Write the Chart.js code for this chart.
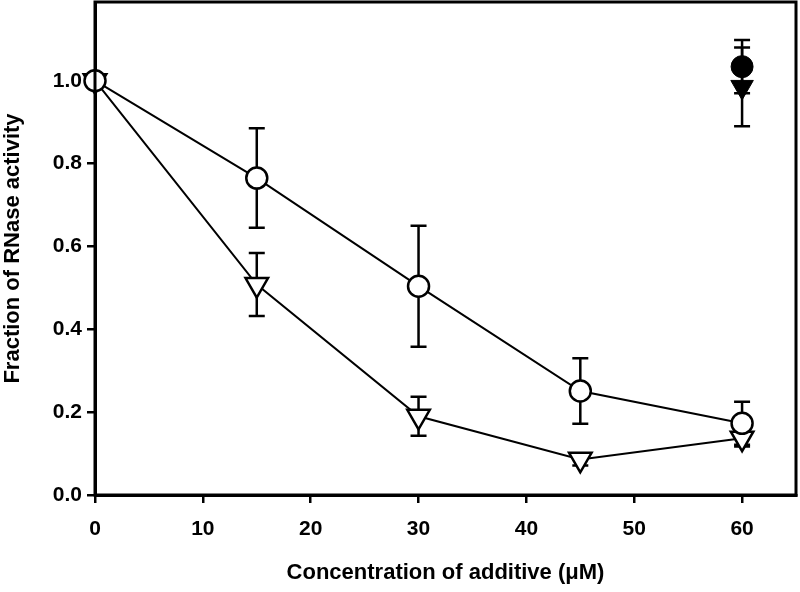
<!DOCTYPE html>
<html lang="en">
<head>
<meta charset="UTF-8">
<title>Fraction of RNase activity</title>
<script src="https://cdn.jsdelivr.net/npm/chart.js"></script>
<style>
    body { margin: 0; background: #fff; }
    #wrap { width: 800px; height: 592px; }
</style>
</head>
<body>
<div id="wrap"><canvas id="myChart" width="800" height="592"></canvas></div>
<script>
    // data
    const conc = [0, 15, 30, 45, 60];
    const openCircle = [1.0, 0.765, 0.504, 0.251, 0.173];
    const openCircleErr = [0, 0.12, 0.146, 0.079, 0.052];
    const openTriangle = [1.0, 0.508, 0.19, 0.086, 0.137];
    const openTriangleErr = [0, 0.076, 0.047, 0.015, 0.02];
    const filledCircleX = [60];
    const filledCircle = [1.034];
    const filledCircleErr = [0.064];
    const filledTriangleX = [60];
    const filledTriangle = [0.985];
    const filledTriangleErr = [0.095];
    const xTicks = [0, 10, 20, 30, 40, 50, 60];
    const yTicks = [0.0, 0.2, 0.4, 0.6, 0.8, 1.0];

    function pts(xs, ys, errs) {
        return xs.map((x, i) => ({ x: x, y: ys[i], err: errs[i] }));
    }

    // error bars, drawn under the markers
    const errorBars = {
        id: 'errorBars',
        beforeDatasetsDraw(chart) {
            const ctx = chart.ctx;
            const xs = chart.scales.x, ys = chart.scales.y;
            ctx.save();
            ctx.strokeStyle = '#000';
            ctx.lineWidth = 2.5;
            chart.data.datasets.forEach(ds => {
                ds.data.forEach(p => {
                    if (!p.err) return;
                    const px = xs.getPixelForValue(p.x);
                    const top = ys.getPixelForValue(p.y + p.err);
                    const bot = ys.getPixelForValue(p.y - p.err);
                    ctx.beginPath();
                    ctx.moveTo(px, top); ctx.lineTo(px, bot);
                    ctx.moveTo(px - 8, top); ctx.lineTo(px + 8, top);
                    ctx.moveTo(px - 8, bot); ctx.lineTo(px + 8, bot);
                    ctx.stroke();
                });
            });
            ctx.restore();
        }
    };

    // frame round the plot area
    const frame = {
        id: 'frame',
        afterDraw(chart) {
            const a = chart.chartArea, ctx = chart.ctx;
            ctx.save();
            ctx.strokeStyle = '#000';
            ctx.lineWidth = 3;
            ctx.strokeRect(a.left, a.top, a.right - a.left, a.bottom - a.top);
            ctx.restore();
        }
    };

    const font = { family: 'Liberation Sans, Arial, sans-serif', weight: 'bold' };

    const chart = new Chart(document.getElementById('myChart'), {
        type: 'scatter',
        data: {
            datasets: [
                {
                    data: pts(conc, openCircle, openCircleErr),
                    showLine: true,
                    clip: false,
                    borderColor: '#000',
                    borderWidth: 2,
                    pointStyle: 'circle',
                    pointRadius: 10.5,
                    pointBorderWidth: 2.5,
                    pointBackgroundColor: '#fff',
                    pointBorderColor: '#000'
                },
                {
                    data: pts(conc, openTriangle, openTriangleErr),
                    showLine: true,
                    clip: false,
                    borderColor: '#000',
                    borderWidth: 2,
                    pointStyle: 'triangle',
                    pointRotation: 180,
                    pointRadius: 13,
                    pointBorderWidth: 2.5,
                    pointBackgroundColor: '#fff',
                    pointBorderColor: '#000'
                },
                {
                    data: pts(filledTriangleX, filledTriangle, filledTriangleErr),
                    pointStyle: 'triangle',
                    pointRotation: 180,
                    pointRadius: 13,
                    pointBorderWidth: 1,
                    pointBackgroundColor: '#000',
                    pointBorderColor: '#000'
                },
                {
                    data: pts(filledCircleX, filledCircle, filledCircleErr),
                    pointStyle: 'circle',
                    pointRadius: 11,
                    pointBorderWidth: 1,
                    pointBackgroundColor: '#000',
                    pointBorderColor: '#000'
                }
            ]
        },
        options: {
            responsive: false,
            animation: false,
            layout: { autoPadding: false, padding: { top: 2, right: 4, left: 0, bottom: 0 } },
            plugins: {
                legend: { display: false },
                tooltip: { enabled: false }
            },
            scales: {
                x: {
                    type: 'linear',
                    min: 0,
                    max: 65,
                    afterFit(scale) { scale.height = 97; },
                    afterBuildTicks(scale) { scale.ticks = xTicks.map(v => ({ value: v })); },
                    ticks: {
                        color: '#000',
                        padding: 14,
                        font: Object.assign({ size: 21 }, font)
                    },
                    grid: {
                        drawOnChartArea: false,
                        color: '#000',
                        lineWidth: 2.5,
                        tickLength: 8
                    },
                    border: { color: '#000', width: 3 },
                    title: {
                        display: true,
                        text: 'Concentration of additive (\u03bcM)',
                        color: '#000',
                        padding: { top: 10, bottom: 6 },
                        font: Object.assign({ size: 22 }, font)
                    }
                },
                y: {
                    type: 'linear',
                    min: 0,
                    max: 1.19,
                    afterFit(scale) {
                        scale.width = 95;
                        scale.paddingTop = 0;
                        scale.paddingBottom = 0;
                    },
                    afterBuildTicks(scale) { scale.ticks = yTicks.map(v => ({ value: v })); },
                    ticks: {
                        color: '#000',
                        padding: 5,
                        font: Object.assign({ size: 21 }, font),
                        callback: v => v.toFixed(1)
                    },
                    grid: {
                        drawOnChartArea: false,
                        color: '#000',
                        lineWidth: 2.5,
                        tickLength: 8
                    },
                    border: { color: '#000', width: 3 },
                    title: {
                        display: true,
                        text: 'Fraction of RNase activity',
                        color: '#000',
                        padding: { top: 0, bottom: 6 },
                        font: Object.assign({ size: 22 }, font)
                    }
                }
            }
        },
        plugins: [errorBars, frame]
    });
</script>
</body>
</html>
